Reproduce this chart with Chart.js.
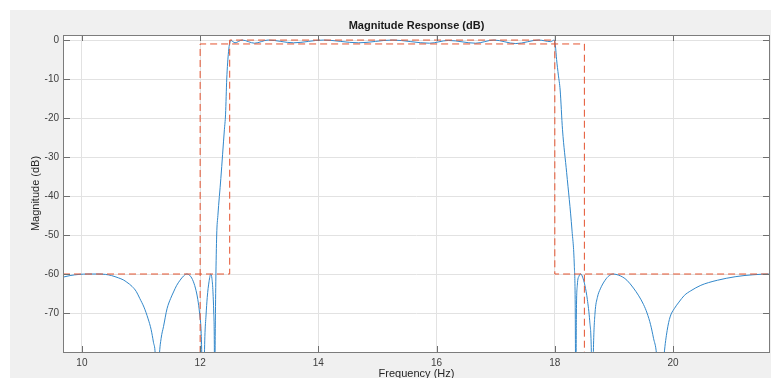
<!DOCTYPE html>
<html>
<head>
<meta charset="utf-8">
<script src="https://cdn.jsdelivr.net/npm/chart.js@4.4.1/dist/chart.umd.min.js"></script>
<style>
  html, body { margin: 0; padding: 0; background: #ffffff; }
  #wrap { width: 771px; height: 378px; }
</style>
</head>
<body>
<div id="wrap"><canvas id="chart" width="771" height="378"></canvas></div>
<script>
// --- Data ---
// filter magnitude response (Hz, dB); nulls go below the -80 floor and get clipped
const freqHz = [
  9.68, 9.8, 9.95, 10.1, 10.25, 10.4, 10.5, 10.62, 10.7, 10.76, 10.85, 10.92, 10.98, 11.05, 11.12, 11.17, 11.21, 11.24, 11.275,
  11.31, 11.34, 11.38, 11.44, 11.5, 11.55, 11.6, 11.66, 11.72, 11.77, 11.82, 11.87, 11.92, 11.96, 11.99, 12.02, 12.05,
  12.08, 12.1, 12.12, 12.15, 12.18, 12.2, 12.215, 12.23, 12.24, 12.245,
  12.255, 12.265, 12.28, 12.3, 12.35, 12.41, 12.43, 12.45, 12.48, 12.5, 12.52,
  12.59, 12.71, 12.92, 13.15, 13.58, 14.08, 14.68, 15.25, 15.88, 16.2, 16.66, 16.97, 17.34, 17.73, 17.93, 17.99,
  18.01, 18.03, 18.06, 18.09, 18.13, 18.2, 18.29, 18.33, 18.345, 18.355,
  18.365, 18.38, 18.41, 18.44, 18.47, 18.51, 18.55, 18.59, 18.615, 18.635,
  18.655, 18.68, 18.72, 18.77, 18.85, 18.92, 18.99, 19.08, 19.15, 19.22, 19.33, 19.42, 19.5, 19.56, 19.62, 19.67, 19.72, 19.78,
  19.85, 19.9, 19.95, 20.02, 20.1, 20.19, 20.3, 20.47, 20.6, 20.75, 20.9, 21.05, 21.2, 21.35, 21.5, 21.64
];
const magDb = [
  -60.8, -60.4, -60.1, -60.0, -60.0, -60.1, -60.4, -61.0, -61.5, -62.1, -63.2, -64.5, -66.3, -68.5, -71.5, -74.2, -77.5, -80.5, -95,
  -81, -76.5, -73.5, -68.9, -66.3, -64.6, -63.0, -61.6, -60.5, -60.0, -60.3, -61.4, -63.6, -66.5, -70.0, -76.0, -95,
  -76.0, -70.5, -66.0, -62.0, -60.0, -61.2, -64.0, -70.0, -78.0, -95,
  -76.0, -62.0, -50.0, -45.0, -35.5, -23.0, -19.0, -10.0, -3.0, -0.8, -0.1,
  -0.7, 0.0, -0.8, 0.0, -0.7, 0.0, -0.7, 0.0, -0.8, -0.1, -0.8, 0.0, -0.9, 0.0, -0.4, 0.0,
  -1.5, -5.0, -9.0, -12.8, -23.0, -34.0, -48.7, -58.0, -68.0, -95,
  -70.0, -63.0, -60.5, -60.0, -60.8, -63.0, -66.5, -72.0, -78.0, -95,
  -78.0, -70.0, -66.0, -63.8, -61.6, -60.4, -60.0, -60.3, -60.8, -61.6, -63.6, -65.6, -67.8, -70.0, -73.0, -76.5, -80.5, -95,
  -80.5, -74.5, -71.0, -68.9, -67.2, -65.5, -64.3, -62.9, -62.2, -61.6, -61.1, -60.7, -60.4, -60.2, -60.05, -60.0
];

// specification mask (dashed)
const maskUpperHz = [9.68, 12.5, 12.5, 18, 18, 21.64];
const maskUpperDb = [-60, -60, 0, 0, -60, -60];
const maskLowerHz = [12, 12, 18.5, 18.5];
const maskLowerDb = [-100, -1, -1, -100];

// axis ticks
const xTicks = [10, 12, 14, 16, 18, 20];
const yTicks = [0, -10, -20, -30, -40, -50, -60, -70];

const X_MIN = 9.68, X_MAX = 21.64;
const Y_MIN = -80, Y_MAX = 1.3;

const FONT = "'Liberation Sans', Arial, Helvetica, sans-serif";
const LINE_BLUE = '#3288cb';
const MASK_RED = '#e4532f';

function toPoints(xs, ys) {
  return xs.map((x, i) => ({ x: x, y: ys[i] }));
}

// grey figure panel + white axes box
const panelPlugin = {
  id: 'panel',
  beforeDraw(chart) {
    const ctx = chart.ctx;
    const a = chart.chartArea;
    ctx.save();
    ctx.fillStyle = '#ffffff';
    ctx.fillRect(0, 0, chart.width, chart.height);
    ctx.fillStyle = '#f0f0f0';
    ctx.fillRect(10, 10, chart.width - 10, chart.height - 10);
    ctx.fillStyle = '#ffffff';
    ctx.fillRect(a.left, a.top, a.right - a.left, a.bottom - a.top);
    ctx.restore();
  }
};

// box outline and inward tick marks on all four sides
const boxPlugin = {
  id: 'box',
  afterDraw(chart) {
    const ctx = chart.ctx;
    const a = chart.chartArea;
    const xs = chart.scales.x;
    const ys = chart.scales.y;
    ctx.save();
    ctx.strokeStyle = '#6f6f6f';
    ctx.lineWidth = 1;
    ctx.beginPath();
    xTicks.forEach(v => {
      const px = Math.round(xs.getPixelForValue(v)) + 0.5;
      ctx.moveTo(px, a.bottom); ctx.lineTo(px, a.bottom - 6);
      ctx.moveTo(px, a.top); ctx.lineTo(px, a.top + 6);
    });
    yTicks.forEach(v => {
      const py = Math.round(ys.getPixelForValue(v)) + 0.5;
      ctx.moveTo(a.left, py); ctx.lineTo(a.left + 7, py);
      ctx.moveTo(a.right, py); ctx.lineTo(a.right - 7, py);
    });
    ctx.stroke();
    ctx.strokeStyle = '#7c7c7c';
    ctx.strokeRect(Math.round(a.left) + 0.5, Math.round(a.top) + 0.5,
      Math.round(a.right - a.left) - 1, Math.round(a.bottom - a.top));
    ctx.restore();
  }
};

new Chart(document.getElementById('chart'), {
  type: 'line',
  data: {
    datasets: [
      {
        label: 'Mask upper',
        data: toPoints(maskUpperHz, maskUpperDb),
        borderColor: MASK_RED,
        borderWidth: 1,
        borderDash: [7, 4],
        pointRadius: 0,
        tension: 0
      },
      {
        label: 'Mask lower',
        data: toPoints(maskLowerHz, maskLowerDb),
        borderColor: MASK_RED,
        borderWidth: 1,
        borderDash: [7, 4],
        pointRadius: 0,
        tension: 0
      },
      {
        label: 'Magnitude',
        data: toPoints(freqHz, magDb),
        borderColor: LINE_BLUE,
        borderWidth: 1,
        pointRadius: 0,
        cubicInterpolationMode: 'monotone'
      }
    ]
  },
  options: {
    responsive: false,
    animation: false,
    events: [],
    layout: { padding: { top: 0, left: 0, right: 1, bottom: 0 } },
    plugins: {
      legend: { display: false },
      tooltip: { enabled: false },
      title: {
        display: true,
        fullSize: false,
        text: 'Magnitude Response (dB)',
        color: '#1a1a1a',
        font: { family: FONT, size: 11, weight: 'bold', lineHeight: 1.2 },
        padding: { top: 19, bottom: 2.8 }
      }
    },
    scales: {
      x: {
        type: 'linear',
        min: X_MIN,
        max: X_MAX,
        afterBuildTicks: s => { s.ticks = xTicks.map(v => ({ value: v })); },
        afterFit: s => { s.height = 26; },
        grid: { color: '#e2e2e2', drawTicks: false },
        border: { display: false },
        ticks: {
          color: '#404040',
          padding: 5,
          maxRotation: 0,
          font: { family: FONT, size: 10 },
          callback: v => String(v)
        },
        title: {
          display: true,
          text: 'Frequency (Hz)',
          color: '#262626',
          font: { family: FONT, size: 11 },
          padding: { top: 0, bottom: -3 }
        }
      },
      y: {
        type: 'linear',
        min: Y_MIN,
        max: Y_MAX,
        afterBuildTicks: s => { s.ticks = yTicks.map(v => ({ value: v })); },
        afterFit: s => { s.width = 63; },
        grid: { color: '#e2e2e2', drawTicks: false },
        border: { display: false },
        ticks: {
          color: '#404040',
          padding: 4,
          font: { family: FONT, size: 10 },
          callback: v => String(v)
        },
        title: {
          display: true,
          text: 'Magnitude (dB)',
          color: '#262626',
          font: { family: FONT, size: 11 },
          padding: { top: 29.4, bottom: 0 }
        }
      }
    }
  },
  plugins: [panelPlugin, boxPlugin]
});
</script>
</body>
</html>
